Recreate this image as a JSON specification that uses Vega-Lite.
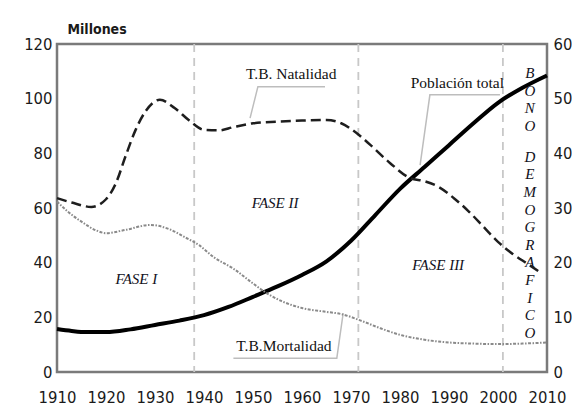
{
  "$schema": "https://vega.github.io/schema/vega-lite/v6.json",
  "autosize": {"type": "none"},
  "padding": {"left": 57, "top": 44, "right": 25, "bottom": 46},
  "width": 490,
  "height": 328,
  "background": "white",
  "config": {
    "view": {"stroke": "#7a7a7a", "strokeWidth": 2.5},
    "axis": {"grid": false, "domain": false, "ticks": false, "labelFont": "DejaVu Sans Condensed, DejaVu Sans, sans-serif", "labelFontSize": 16.5, "labelColor": "#1a1a1a"},
    "text": {"lineBreak": "|"}
  },
  "layer": [
    {
      "resolve": {"axis": {"x": "independent", "y": "independent"}},
      "layer": [
        {
          "data": {"values": [{"year": 1938}, {"year": 1971.5}, {"year": 2001}]},
          "mark": {"type": "rule", "color": "#c8c8c8", "strokeWidth": 1.8, "strokeDash": [8, 6]},
          "encoding": {"x": {"field": "year", "type": "quantitative", "axis": null}}
        },
        {
          "data": {"values": [
            {"g": "nat", "o": 1, "year": 1949.4, "v": 92.9},
            {"g": "nat", "o": 2, "year": 1951.0, "v": 104.4},
            {"g": "nat", "o": 3, "year": 1964.7, "v": 104.4},
            {"g": "pop", "o": 1, "year": 1984.1, "v": 75.7},
            {"g": "pop", "o": 2, "year": 1986.1, "v": 101.4},
            {"g": "pop", "o": 3, "year": 2000.4, "v": 101.4},
            {"g": "mor", "o": 1, "year": 1946.0, "v": 5.0},
            {"g": "mor", "o": 2, "year": 1967.1, "v": 5.0},
            {"g": "mor", "o": 3, "year": 1968.4, "v": 21.5}
          ]},
          "mark": {"type": "line", "color": "#bdbdbd", "strokeWidth": 1.5},
          "encoding": {
            "x": {"field": "year", "type": "quantitative", "axis": null},
            "y": {"field": "v", "type": "quantitative", "axis": null},
            "detail": {"field": "g"},
            "order": {"field": "o"}
          }
        },
        {
          "data": {"values": [
            {"year": 1910, "v": 15.7}, {"year": 1913, "v": 15.0}, {"year": 1916, "v": 14.6}, {"year": 1920, "v": 14.6},
            {"year": 1925, "v": 15.6}, {"year": 1930, "v": 17.2}, {"year": 1935, "v": 18.8}, {"year": 1940, "v": 20.8},
            {"year": 1945, "v": 23.8}, {"year": 1950, "v": 27.5}, {"year": 1955, "v": 31.3}, {"year": 1960, "v": 35.5},
            {"year": 1965, "v": 40.5}, {"year": 1970, "v": 48.0}, {"year": 1975, "v": 57.5}, {"year": 1980, "v": 67.0},
            {"year": 1985, "v": 75.0}, {"year": 1990, "v": 83.0}, {"year": 1995, "v": 91.0}, {"year": 2000, "v": 98.5},
            {"year": 2005, "v": 104.0}, {"year": 2010, "v": 108.5}
          ]},
          "mark": {"type": "line", "color": "#000000", "strokeWidth": 4, "interpolate": "monotone"},
          "encoding": {
            "x": {"field": "year", "type": "quantitative", "scale": {"domain": [1910, 2010], "nice": false, "zero": false},
                  "axis": {"orient": "bottom", "values": [1910, 1920, 1930, 1940, 1950, 1960, 1970, 1980, 1990, 2000, 2010], "format": "d", "title": null, "labelPadding": 17, "labelFlush": false}},
            "y": {"field": "v", "type": "quantitative", "scale": {"domain": [0, 120], "nice": false},
                  "axis": {"orient": "left", "values": [0, 20, 40, 60, 80, 100, 120], "labelPadding": 5,
                           "title": "Millones", "titleAngle": 0, "titleAlign": "left", "titleBaseline": "alphabetic", "titleX": 10, "titleY": -11,
                           "titleFont": "DejaVu Sans Condensed, DejaVu Sans, sans-serif", "titleFontSize": 14, "titleFontWeight": "bold", "titleColor": "#1a1a1a"}}
          }
        },
        {
          "data": {"values": [
            {"t": "T.B. Natalidad", "year": 1957.8, "v": 109.0},
            {"t": "Población total", "year": 1991.7, "v": 105.7},
            {"t": "T.B.Mortalidad", "year": 1956.3, "v": 9.5}
          ]},
          "mark": {"type": "text", "font": "Liberation Serif, DejaVu Serif, serif", "fontSize": 15.5, "color": "#111111", "baseline": "middle", "align": "center"},
          "encoding": {
            "x": {"field": "year", "type": "quantitative", "axis": null},
            "y": {"field": "v", "type": "quantitative", "axis": null},
            "text": {"field": "t"}
          }
        },
        {
          "data": {"values": [
            {"t": "FASE I", "year": 1926.2, "v": 34.0},
            {"t": "FASE II", "year": 1954.5, "v": 61.8},
            {"t": "FASE III", "year": 1987.8, "v": 39.2},
            {"t": "B|O|N|O", "year": 2006.5, "v": 109.4},
            {"t": "D|E|M|O|G|R|A|F|I|C|O", "year": 2006.5, "v": 78.7}
          ]},
          "mark": {"type": "text", "font": "Liberation Serif, DejaVu Serif, serif", "fontSize": 15, "fontStyle": "italic", "color": "#111122", "baseline": "middle", "align": "center", "lineHeight": 17.6},
          "encoding": {
            "x": {"field": "year", "type": "quantitative", "axis": null},
            "y": {"field": "v", "type": "quantitative", "axis": null},
            "text": {"field": "t"}
          }
        }
      ]
    },
    {
      "resolve": {"axis": {"x": "independent", "y": "independent"}},
      "layer": [
        {
          "data": {"values": [
            {"year": 1910, "v": 31.8}, {"year": 1913, "v": 31.0}, {"year": 1917, "v": 30.2}, {"year": 1920, "v": 31.6},
            {"year": 1922, "v": 34.5}, {"year": 1924, "v": 39.5}, {"year": 1926, "v": 44.2}, {"year": 1928, "v": 47.6},
            {"year": 1931, "v": 49.8}, {"year": 1934, "v": 48.3}, {"year": 1937, "v": 46.0}, {"year": 1940, "v": 44.3},
            {"year": 1943, "v": 44.2}, {"year": 1946, "v": 44.8}, {"year": 1950, "v": 45.5}, {"year": 1955, "v": 45.8},
            {"year": 1960, "v": 46.0}, {"year": 1965, "v": 46.1}, {"year": 1968, "v": 45.5}, {"year": 1971, "v": 43.8},
            {"year": 1974, "v": 41.5}, {"year": 1978, "v": 38.2}, {"year": 1982, "v": 35.5}, {"year": 1985, "v": 34.9},
            {"year": 1988, "v": 33.8}, {"year": 1991, "v": 31.8}, {"year": 1994, "v": 29.4}, {"year": 1997, "v": 26.6},
            {"year": 2000, "v": 23.8}, {"year": 2003, "v": 21.6}, {"year": 2006, "v": 19.8}, {"year": 2009, "v": 18.0}
          ]},
          "mark": {"type": "line", "color": "#1e1e1e", "strokeWidth": 2.5, "strokeDash": [10, 5], "interpolate": "monotone"},
          "encoding": {
            "x": {"field": "year", "type": "quantitative", "axis": null},
            "y": {"field": "v", "type": "quantitative", "scale": {"domain": [0, 60], "nice": false},
                  "axis": {"orient": "right", "values": [0, 10, 20, 30, 40, 50, 60], "labelPadding": 6, "title": null}}
          }
        },
        {
          "data": {"values": [
            {"year": 1910, "v": 31.2}, {"year": 1912, "v": 29.5}, {"year": 1915, "v": 27.5}, {"year": 1918, "v": 25.9},
            {"year": 1920, "v": 25.4}, {"year": 1924, "v": 26.0}, {"year": 1929, "v": 26.9}, {"year": 1933, "v": 26.1},
            {"year": 1936, "v": 24.7}, {"year": 1939, "v": 23.2}, {"year": 1942, "v": 21.0}, {"year": 1946, "v": 18.9},
            {"year": 1950, "v": 16.2}, {"year": 1953, "v": 14.3}, {"year": 1956, "v": 12.9}, {"year": 1960, "v": 11.7},
            {"year": 1965, "v": 11.0}, {"year": 1968, "v": 10.6}, {"year": 1972, "v": 9.4}, {"year": 1976, "v": 8.0},
            {"year": 1980, "v": 6.8}, {"year": 1985, "v": 5.9}, {"year": 1990, "v": 5.4}, {"year": 1995, "v": 5.2},
            {"year": 2000, "v": 5.1}, {"year": 2005, "v": 5.2}, {"year": 2010, "v": 5.4}
          ]},
          "mark": {"type": "line", "color": "#8a8a8a", "strokeWidth": 2, "strokeDash": [3, 1.5, 1.5, 1.5], "interpolate": "monotone"},
          "encoding": {
            "x": {"field": "year", "type": "quantitative", "axis": null},
            "y": {"field": "v", "type": "quantitative", "axis": null}
          }
        }
      ]
    }
  ],
  "resolve": {"scale": {"y": "independent"}, "axis": {"x": "independent", "y": "independent"}}
}
